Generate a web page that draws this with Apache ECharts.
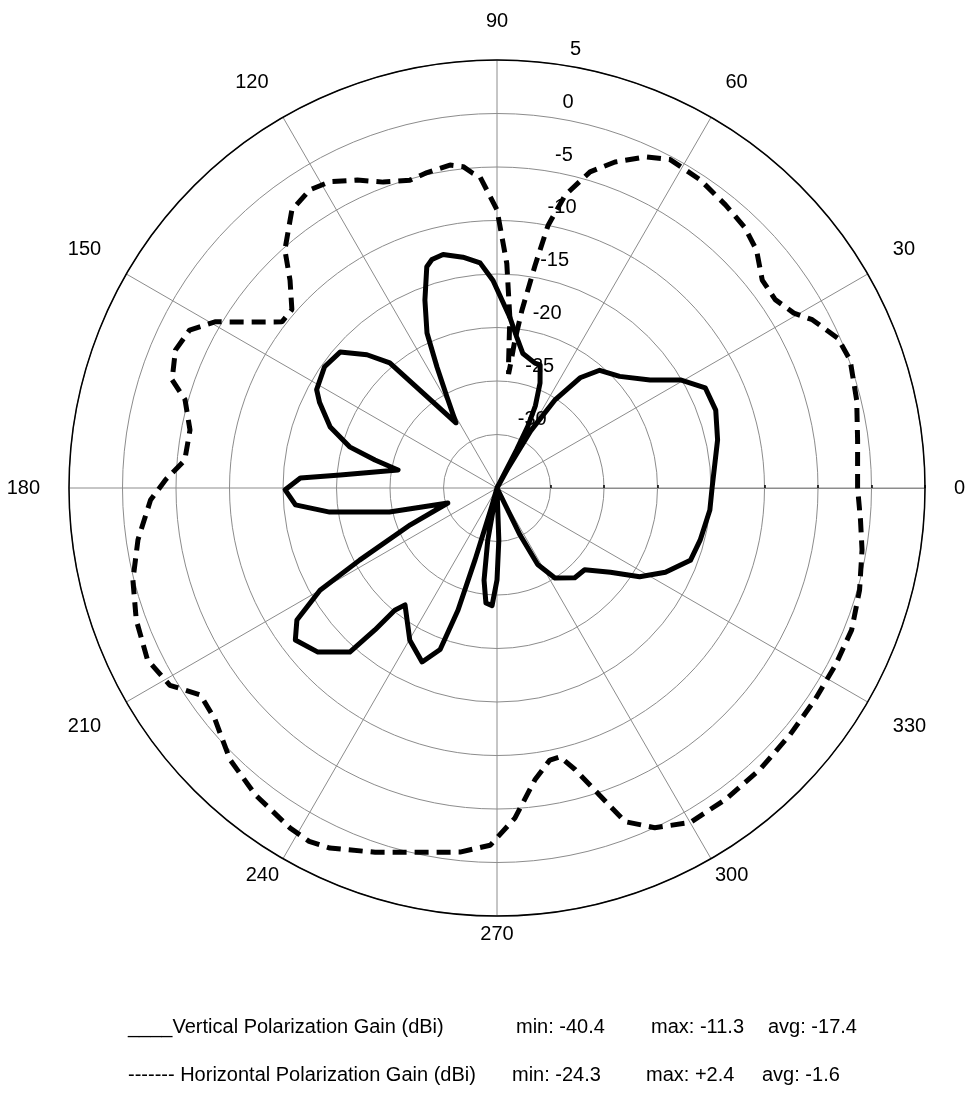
<!DOCTYPE html>
<html>
<head>
<meta charset="utf-8">
<title>Polarization gain</title>
<script src="https://cdn.jsdelivr.net/npm/echarts@6/dist/echarts.min.js"></script>
<style>
html, body { margin: 0; padding: 0; background: #fff; }
#chart { width: 974px; height: 1093px; }
</style>
</head>
<body>
<div id="chart"></div>
<script>
// tick labels (the bottom ones sit closer to the circle)
var angleTicks = [0, 30, 60, 90, 120, 150, 180, 210, 330];
var angleTicksLow = [240, 270, 300];
var gainTicks = [-35, -30, -25, -20, -15, -10, -5, 0, 5];

// horizontal polarization (dashed)
var hAngle = [0, 7.6, 13.7, 19.9, 23.7, 28.1, 30.5, 34.1, 38.1, 42.5, 46.4, 51.1, 56.6, 62.2, 65.9,
  70.1, 73.6, 76.9, 79.0, 80.3, 82.0, 83.1, 83.7, 84.2, 84.8, 85.7, 87.5, 90, 93.1, 94.4, 96,
  98.3, 102.5, 105.8, 110.4, 114.4, 118.6, 122.1, 126.4, 131.7, 134.9, 139, 142.3, 146.1, 149.5,
  152.8, 156.8, 161.6, 164.2, 169.3, 174.9, 178.6, 182, 188.2, 194.2, 200.1, 206.2, 211.1, 214.9,
  219.4, 225.5, 231.8, 238.7, 242, 245.1, 251.5, 258.1, 264.2, 268.9, 273.1, 277.4, 281, 283.2,
  285.5, 288.5, 291, 294.9, 300, 306.2, 313, 319.9, 326.3, 332.4, 338.2, 344.3, 350.4, 355];
var hGain = [-1.3, -1.0, -0.4, 0.1, -0.2, -1.6, -2.8, -3.6, -3.5, -2.1, -1.4, -1.0, -0.5, -0.3, -1.1,
  -2.6, -4.2, -6.9, -10.0, -13.9, -18.2, -21.1, -23.2, -24.3, -23.0, -19.0, -14.0, -9.0, -5.9, -5.5, -4.8,
  -4.5, -4.8, -5.1, -4.5, -3.4, -2.4, -2.1, -2.7, -5.2, -7.6, -9.6, -9.6, -7.2, -4.4,
  -2.7, -2.3, -3.0, -4.7, -5.8, -5.7, -4.0, -2.6, -1.1, 0.1, 0.9, 1.4, 0.7, -1.2,
  -0.9, 0.6, 1.5, 2.2, 2.4, 2.1, 0.9, -0.2, -0.8, -1.6, -4.1, -7.5, -9.1, -9.2,
  -7.7, -4.7, -1.6, 0.0, 1.1, 1.1, 1.0, 0.8, 0.7, 0.7, 0.7, 0.2, -0.4, -0.9];

// vertical polarization (solid)
var vAngle = [0, 12.3, 19.6, 25.7, 30.5, 35.2, 42.3, 48.9, 53.0, 56.6, 59.5, 61, 62, 62.8, 63.5,
  65, 67.7, 70.7, 73.1, 79.1, 82.5, 85.7, 91.1, 94.3, 98.4, 103, 105.9, 107.6, 111, 114.3, 116.4,
  118.8, 122.2, 130.6, 134.3, 139.1, 144.9, 151.4, 154.3, 159.9, 164.4, 167.1, 169.7, 175.3, 177.1,
  180.5, 184.8, 188.2, 192.6, 197, 203, 207.7, 210, 213.4, 217, 222.5, 228.1, 229.3, 230.1, 231.8,
  240.2, 246.7, 250.6, 252.3, 253, 254, 256, 260, 262, 264.5, 267.6, 270, 272, 275, 292, 296.1,
  298, 302.8, 310.9, 317, 323.4, 328.1, 333.4, 339.5, 345.6, 354.1];
var vGain = [-14.9, -13.9, -13.3, -13.4, -15.1, -17.5, -19.5, -20.4, -22.1, -25.1, -28.8, -33, -40.4, -31, -28.5,
  -26.5, -24.4, -22.8, -22.8, -22.2, -20.8, -19.0, -15.6, -13.9, -13.2, -12.6, -12.8, -13.3, -16.2, -19.1, -22.4,
  -25.3, -27.8, -19.6, -17.6, -15.6, -15.3, -15.8, -16.6, -18.4, -20.7, -23.3, -25.6, -20.3, -16.6,
  -15.2, -16.1, -19.2, -24.7, -30.2, -26.2, -20.5, -15.9, -12.6, -11.4, -12.3, -14.4, -17.5, -20.1, -21.1,
  -18.6, -17.3, -19.0, -23.0, -28, -33, -40, -30, -26.3, -24.2, -24.0, -26.4, -30.1, -40, -40, -30.1,
  -26.9, -25.0, -23.9, -23.8, -21.8, -19.3, -17.4, -15.7, -15.4, -15.0];

var legendRows = [
  ['____Vertical Polarization Gain (dBi)', 'min: -40.4', 'max: -11.3', 'avg: -17.4'],
  ['------- Horizontal Polarization Gain (dBi)', 'min: -24.3', 'max: +2.4', 'avg: -1.6']
];

var rMin = gainTicks[0];
var rMax = gainTicks[gainTicks.length - 1];

// values under the inner limit sit on the centre, curve is closed
function toPolar(angles, gains) {
  var pts = angles.map(function (a, i) { return [Math.max(gains[i], rMin), a]; });
  pts.push([pts[0][0], angles[0] + 360]);
  return pts;
}

var font = 'Liberation Sans, Arial, sans-serif';
var legendX = [[128, 516, 651, 768], [128, 512, 646, 762]];
var legendY = [1017, 1065];
var graphics = [];
legendRows.forEach(function (row, i) {
  row.forEach(function (txt, j) {
    graphics.push({
      type: 'text', left: legendX[i][j], top: legendY[i],
      style: { text: txt, font: '20px ' + font, fill: '#000' }
    });
  });
});

function angleLabel(list, margin) {
  return {
    margin: margin, fontSize: 20, fontFamily: font, color: '#000',
    formatter: function (v) { return list.indexOf(v) >= 0 ? String(v) : ''; }
  };
}

function hiddenAngle(idx, start) {
  return {
    polarIndex: idx, type: 'value', min: 0, max: 360, interval: 30,
    startAngle: start, clockwise: false,
    axisLine: { show: false }, axisTick: { show: false },
    axisLabel: { show: false }, splitLine: { show: false }
  };
}

var myChart = echarts.init(document.getElementById('chart'));
myChart.setOption({
  backgroundColor: '#fff',
  animation: false,
  polar: [
    { center: [497, 488], radius: 428 },
    { center: [497, 488], radius: 428 },
    { center: [497, 488], radius: 428 }
  ],
  angleAxis: [
    {
      polarIndex: 0, type: 'value', min: 0, max: 360, interval: 30,
      startAngle: 0, clockwise: false,
      axisLine: { lineStyle: { color: '#000', width: 1.5 } },
      axisTick: { show: false },
      splitLine: { lineStyle: { color: '#8c8c8c', width: 1 } },
      axisLabel: angleLabel(angleTicks, 29)
    },
    hiddenAngle(1, 82),
    (function () {
      var a = hiddenAngle(2, 0);
      a.axisLabel = angleLabel(angleTicksLow, 8);
      return a;
    })()
  ],
  radiusAxis: [
    {
      polarIndex: 0, type: 'value', min: rMin, max: rMax, interval: 5,
      axisLine: { lineStyle: { color: '#8c8c8c', width: 1 } },
      axisTick: { show: true, length: 3, lineStyle: { color: '#000', width: 1.5 } },
      axisLabel: { show: false },
      splitLine: { lineStyle: { color: '#8c8c8c', width: 1 } }
    },
    {
      polarIndex: 1, type: 'value', min: rMin, max: rMax, interval: 5,
      axisLine: { show: false }, axisTick: { show: false }, splitLine: { show: false },
      axisLabel: {
        showMinLabel: false, margin: -13.5, align: 'left', verticalAlign: 'bottom',
        padding: [0, 0, 7, 0],
        fontSize: 20, fontFamily: font, color: '#000'
      }
    },
    {
      polarIndex: 2, type: 'value', min: rMin, max: rMax, interval: 5,
      axisLine: { show: false }, axisTick: { show: false }, splitLine: { show: false },
      axisLabel: { show: false }
    }
  ],
  graphic: graphics,
  series: [
    {
      name: 'Vertical Polarization Gain (dBi)', type: 'line', coordinateSystem: 'polar', polarIndex: 0,
      data: toPolar(vAngle, vGain), showSymbol: false, smooth: false, z: 3,
      lineStyle: { color: '#000', width: 5, join: 'round' }
    },
    {
      name: 'Horizontal Polarization Gain (dBi)', type: 'line', coordinateSystem: 'polar', polarIndex: 0,
      data: toPolar(hAngle, hGain), showSymbol: false, smooth: false, z: 3,
      lineStyle: { color: '#000', width: 5, type: [14, 8] }
    }
  ]
});
</script>
</body>
</html>
